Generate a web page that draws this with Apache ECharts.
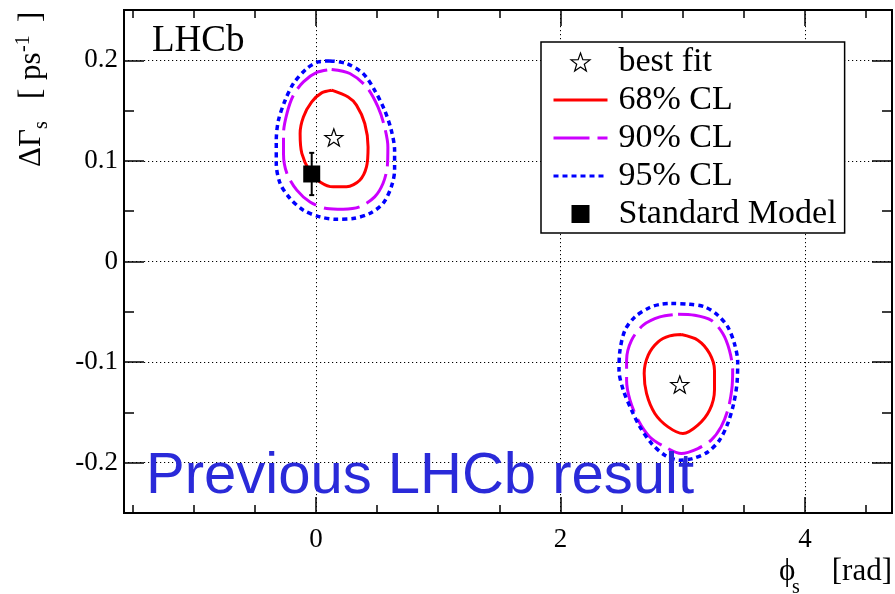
<!DOCTYPE html>
<html>
<head>
<meta charset="utf-8">
<script src="https://cdn.jsdelivr.net/npm/echarts@6/dist/echarts.min.js"></script>
<style>
  html, body { margin: 0; padding: 0; background: #fff; }
  #chart { width: 895px; height: 594px; }
</style>
</head>
<body>
<div id="chart"></div>
<script>
// Tick positions
const xMajorTicks = [0, 2, 4];
const xMinorTicks = [-1.5, -1, -0.5, 0, 0.5, 1, 1.5, 2, 2.5, 3, 3.5, 4, 4.5];
const yMajorTicks = [-0.2, -0.1, 0, 0.1, 0.2];
const yMinorTicks = [-0.2, -0.15, -0.1, -0.05, 0, 0.05, 0.1, 0.15, 0.2];

// Confidence-level contours in (phi_s [rad], DeltaGamma_s [ps^-1]); two solutions
const cl68Left = [[0.128,0.1703],[0.263,0.1636],[0.331,0.1554],[0.399,0.1372],[0.426,0.1139],[0.413,0.0940],[0.358,0.0808],[0.250,0.0742],[0.141,0.0742],[0.033,0.0791],[-0.049,0.0891],[-0.116,0.1074],[-0.130,0.1272],[-0.103,0.1437],[-0.035,0.1586],[0.046,0.1676],[0.128,0.1703]];
const cl90Left = [[0.128,0.1909],[0.277,0.1869],[0.413,0.1736],[0.507,0.1537],[0.561,0.1338],[0.588,0.1139],[0.583,0.0940],[0.548,0.0775],[0.480,0.0642],[0.358,0.0543],[0.222,0.0520],[0.087,0.0527],[-0.049,0.0592],[-0.157,0.0709],[-0.238,0.0875],[-0.266,0.1074],[-0.266,0.1272],[-0.238,0.1471],[-0.185,0.1653],[-0.103,0.1785],[0.006,0.1879],[0.128,0.1909]];
const cl95Left = [[0.114,0.1994],[0.250,0.1968],[0.385,0.1869],[0.480,0.1702],[0.561,0.1504],[0.616,0.1305],[0.643,0.1106],[0.643,0.0908],[0.616,0.0742],[0.548,0.0577],[0.439,0.0477],[0.303,0.0427],[0.168,0.0420],[0.033,0.0443],[-0.103,0.0510],[-0.212,0.0626],[-0.293,0.0775],[-0.325,0.0974],[-0.325,0.1206],[-0.307,0.1405],[-0.252,0.1603],[-0.185,0.1769],[-0.076,0.1918],[0.019,0.1984],[0.114,0.1994]];
const cl68Right = [[2.989,-0.0726],[3.124,-0.0782],[3.220,-0.0915],[3.260,-0.1081],[3.260,-0.1279],[3.220,-0.1478],[3.124,-0.1627],[3.002,-0.1710],[2.880,-0.1644],[2.772,-0.1511],[2.704,-0.1312],[2.685,-0.1113],[2.718,-0.0931],[2.799,-0.0799],[2.894,-0.0740],[2.989,-0.0726]];
const cl90Right = [[2.962,-0.0524],[3.098,-0.0534],[3.233,-0.0583],[3.328,-0.0716],[3.382,-0.0882],[3.409,-0.1081],[3.401,-0.1279],[3.369,-0.1478],[3.314,-0.1644],[3.233,-0.1776],[3.124,-0.1859],[2.989,-0.1909],[2.854,-0.1843],[2.731,-0.1744],[2.636,-0.1578],[2.569,-0.1379],[2.541,-0.1180],[2.541,-0.0981],[2.582,-0.0782],[2.677,-0.0633],[2.813,-0.0551],[2.962,-0.0524]];
const cl95Right = [[2.907,-0.0417],[3.043,-0.0424],[3.179,-0.0451],[3.287,-0.0534],[3.369,-0.0650],[3.423,-0.0815],[3.450,-0.0998],[3.444,-0.1213],[3.417,-0.1412],[3.369,-0.1610],[3.301,-0.1776],[3.206,-0.1893],[3.084,-0.1958],[2.976,-0.1975],[2.854,-0.1925],[2.745,-0.1809],[2.650,-0.1644],[2.582,-0.1478],[2.514,-0.1279],[2.479,-0.1081],[2.487,-0.0882],[2.528,-0.0683],[2.609,-0.0551],[2.731,-0.0457],[2.826,-0.0424],[2.907,-0.0417]];

// Best-fit points and the Standard Model prediction (value, lower, upper)
const bestFit = [[0.146, 0.1233], [2.976, -0.1223]];
const smPoint = [[-0.035, 0.087]];
const smErrorBar = [[-0.035, 0.066, 0.108]];

const legendNames = ['best fit', '68% CL', '90% CL', '95% CL', 'Standard Model'];

const STAR = 'path://M50,0L61.76,33.82L97.55,34.55L69.02,56.18L79.39,90.45L50,70L20.61,90.45L30.98,56.18L2.45,34.55L38.24,33.82Z';
const SQUARE = 'path://M0,0H10V10H0Z';
const SERIF = '"Liberation Serif", "Times New Roman", "DejaVu Serif", serif';
const SANS = '"Liberation Sans", Arial, sans-serif';

const PHI_MIN = -Math.PI / 2, PHI_MAX = 3 * Math.PI / 2;
const DG_MIN = -0.25, DG_MAX = 0.25;

const frameLine = { show: true, onZero: false, lineStyle: { color: '#000', width: 2 } };
const tickStyle = { color: '#000', width: 1.5 };
const gridStyle = { color: '#000', width: 1, type: [1.2, 2.8] };

function axisDef(position, ticks, len, withLabels, withGrid, margin) {
  const horizontal = position === 'bottom' || position === 'top';
  return {
    type: 'value', position: position,
    min: horizontal ? PHI_MIN : DG_MIN,
    max: horizontal ? PHI_MAX : DG_MAX,
    axisLine: frameLine,
    axisTick: { show: true, inside: true, length: len, customValues: ticks, lineStyle: tickStyle },
    axisLabel: withLabels ? {
      show: true, customValues: ticks, margin: margin, color: '#000',
      fontFamily: SERIF, fontSize: 27, formatter: v => String(v)
    } : { show: false },
    splitLine: withGrid ? { show: true, lineStyle: gridStyle } : { show: false }
  };
}

function contour(name, data, color, type, width) {
  return {
    type: 'line', name: name, data: data, symbol: 'none', smooth: 0.3,
    lineStyle: { color: color, width: width, type: type },
    itemStyle: { color: color },
    z: 3, silent: true
  };
}

const chart = echarts.init(document.getElementById('chart'), null, { renderer: 'canvas' });

chart.setOption({
  animation: false,
  backgroundColor: '#fff',
  grid: { left: 124, right: 3, top: 10, bottom: 81, containLabel: false },
  xAxis: [
    axisDef('bottom', xMajorTicks, 16, true, true, 13),
    axisDef('bottom', xMinorTicks, 8, false, false),
    axisDef('top', xMajorTicks, 16, false, false),
    axisDef('top', xMinorTicks, 8, false, false)
  ],
  yAxis: [
    axisDef('left', yMajorTicks, 20, true, true, 6),
    axisDef('left', yMinorTicks, 10, false, false),
    axisDef('right', yMajorTicks, 20, false, false),
    axisDef('right', yMinorTicks, 10, false, false)
  ],
  legend: {
    orient: 'vertical', left: 541, top: 42,
    padding: [1, 8, 0, 11],
    itemGap: 0, itemWidth: 54, itemHeight: 18,
    backgroundColor: '#fff', borderColor: '#000', borderWidth: 1.5,
    selectedMode: false,
    textStyle: { fontFamily: SERIF, fontSize: 34, color: '#000', lineHeight: 38, padding: [0, 0, 0, 6] },
    lineStyle: { width: 3 },
    data: [
      { name: legendNames[0], icon: STAR, itemStyle: { color: '#fff', borderColor: '#000', borderWidth: 1.2, opacity: 1 } },
      { name: legendNames[1], itemStyle: { opacity: 0 } },
      { name: legendNames[2], itemStyle: { opacity: 0 } },
      { name: legendNames[3], itemStyle: { opacity: 0 } },
      { name: legendNames[4], icon: SQUARE, itemStyle: { color: '#000', borderWidth: 0, opacity: 1 } }
    ]
  },
  series: [
    contour(legendNames[1], cl68Left, '#ff0000', 'solid', 3),
    contour(legendNames[1], cl68Right, '#ff0000', 'solid', 3),
    contour(legendNames[2], cl90Left, '#cc00ff', [36, 8], 3),
    contour(legendNames[2], cl90Right, '#cc00ff', [36, 8], 3),
    contour(legendNames[3], cl95Left, '#0000ff', [5, 4], 3.5),
    contour(legendNames[3], cl95Right, '#0000ff', [5, 4], 3.5),
    {
      type: 'scatter', name: legendNames[0], data: bestFit,
      symbol: STAR, symbolSize: 18, symbolKeepAspect: true,
      itemStyle: { color: '#fff', borderColor: '#000', borderWidth: 1.2, opacity: 1 },
      z: 5, silent: true
    },
    {
      type: 'custom', name: 'SM uncertainty', data: smErrorBar,
      encode: { x: 0, y: [1, 2] }, z: 5, silent: true,
      renderItem: function (params, api) {
        const x = api.value(0);
        const lo = api.coord([x, api.value(1)]);
        const hi = api.coord([x, api.value(2)]);
        const st = { stroke: '#000', lineWidth: 2 };
        return {
          type: 'group', children: [
            { type: 'line', shape: { x1: lo[0], y1: lo[1], x2: hi[0], y2: hi[1] }, style: st },
            { type: 'line', shape: { x1: lo[0] - 2.5, y1: lo[1], x2: lo[0] + 2.5, y2: lo[1] }, style: st },
            { type: 'line', shape: { x1: hi[0] - 2.5, y1: hi[1], x2: hi[0] + 2.5, y2: hi[1] }, style: st }
          ]
        };
      }
    },
    {
      type: 'scatter', name: legendNames[4], data: smPoint,
      symbol: SQUARE, symbolSize: 17,
      itemStyle: { color: '#000', opacity: 1 }, z: 6, silent: true
    }
  ],
  graphic: [
    {
      type: 'text', x: 152, y: 41, z: 10,
      style: { text: 'LHCb', fontFamily: SERIF, fontSize: 37, fill: '#000', align: 'left', verticalAlign: 'middle' }
    },
    {
      type: 'text', x: 146, y: 477, z: 10,
      style: { text: 'Previous LHCb result', fontFamily: SANS, fontSize: 58, fill: '#2a2ad9', align: 'left', verticalAlign: 'middle' }
    },
    // x-axis title
    {
      type: 'group', z: 10, children: [
        { type: 'text', x: 779, y: 572, style: { text: 'ϕ', fontFamily: SERIF, fontSize: 31, fill: '#000', align: 'left', verticalAlign: 'middle' } },
        { type: 'text', x: 792, y: 588, style: { text: 's', fontFamily: SERIF, fontSize: 20, fill: '#000', align: 'left', verticalAlign: 'middle' } },
        { type: 'text', x: 892, y: 572, style: { text: '[rad]', fontFamily: SERIF, fontSize: 31, fill: '#000', align: 'right', verticalAlign: 'middle' } }
      ]
    },
    // y-axis title, rotated so it reads bottom to top
    {
      type: 'group', x: 32, y: 167, rotation: Math.PI / 2, z: 10, children: [
        { type: 'text', x: 0, y: 0, style: { text: 'ΔΓ', fontFamily: SERIF, fontSize: 31, fill: '#000', align: 'left', verticalAlign: 'middle' } },
        { type: 'text', x: 38, y: 10, style: { text: 's', fontFamily: SERIF, fontSize: 20, fill: '#000', align: 'left', verticalAlign: 'middle' } },
        { type: 'text', x: 68, y: 0, style: { text: '[', fontFamily: SERIF, fontSize: 31, fill: '#000', align: 'left', verticalAlign: 'middle' } },
        { type: 'text', x: 87, y: 0, style: { text: 'ps', fontFamily: SERIF, fontSize: 31, fill: '#000', align: 'left', verticalAlign: 'middle' } },
        { type: 'text', x: 115, y: -8, style: { text: '-1', fontFamily: SERIF, fontSize: 20, fill: '#000', align: 'left', verticalAlign: 'middle' } },
        { type: 'text', x: 145, y: 0, style: { text: ']', fontFamily: SERIF, fontSize: 31, fill: '#000', align: 'left', verticalAlign: 'middle' } }
      ]
    }
  ]
});
</script>
</body>
</html>
